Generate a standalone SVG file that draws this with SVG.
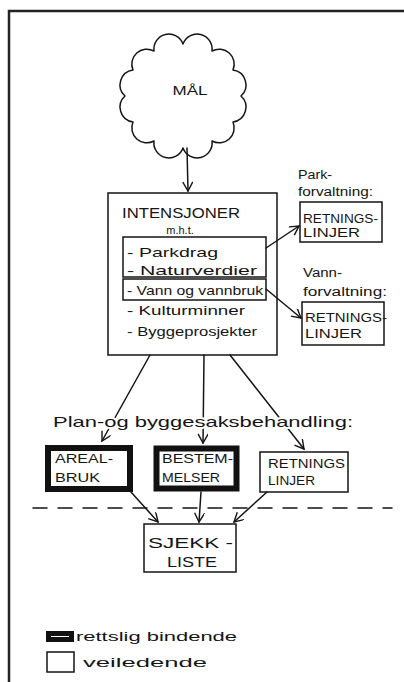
<svg xmlns="http://www.w3.org/2000/svg" width="404" height="682" viewBox="0 0 404 682">
<defs>
<style>
.ln{fill:none;stroke:#151515;stroke-width:1.5;stroke-linecap:round;stroke-linejoin:round}
.bx{fill:none;stroke:#151515;stroke-width:1.5}
.thick{fill:none;stroke:#111;stroke-width:6}
.t{font-family:"Liberation Sans","DejaVu Sans",sans-serif;fill:#151515}
.halo{paint-order:stroke;stroke:#fff;stroke-width:4;stroke-linejoin:round}
</style>
<marker id="ah" markerWidth="12" markerHeight="12" refX="10" refY="5" orient="auto" markerUnits="userSpaceOnUse">
<path d="M1,0 L10,5 L1,10" fill="none" stroke="#151515" stroke-width="1.4"/>
</marker>
</defs>
<rect width="404" height="682" fill="#fff"/>
<path d="M9,682 V11 H404" fill="none" stroke="#222" stroke-width="2.5"/>

<g id="connectors">
<path class="ln" d="M187,148 L188,191" marker-end="url(#ah)"/>
<path class="ln" d="M266,248 L299,226" marker-end="url(#ah)"/>
<path class="ln" d="M266,289 L301,318" marker-end="url(#ah)"/>
<path class="ln" d="M150,355 L102,441" marker-end="url(#ah)"/>
<path class="ln" d="M204,355 L203,443" marker-end="url(#ah)"/>
<path class="ln" d="M230,355 L304,449" marker-end="url(#ah)"/>
<path class="ln" d="M131,492 L158,522" marker-end="url(#ah)"/>
<path class="ln" d="M201,492 L199,522" marker-end="url(#ah)"/>
<path class="ln" d="M267,492 L234,522" marker-end="url(#ah)"/>
<path class="ln" d="M33,508 H392" stroke-dasharray="14 11"/>
</g>

<g id="mal">
<path class="ln" d="M241,96 A15,15 0 0 1 233,122 A15,15 0 0 1 212,141 A15,15 0 0 1 183,148 A15,15 0 0 1 154,141 A15,15 0 0 1 133,122 A15,15 0 0 1 125,96 A15,15 0 0 1 133,70 A15,15 0 0 1 154,51 A15,15 0 0 1 183,44 A15,15 0 0 1 212,51 A15,15 0 0 1 233,70 A15,15 0 0 1 241,96 Z"/>
<text class="t" x="190" y="95" font-size="13" text-anchor="middle" textLength="35" lengthAdjust="spacingAndGlyphs">MÅL</text>
</g>

<g id="intensjoner">
<rect class="bx" x="108" y="193" width="169" height="162"/>
<rect class="bx" x="123" y="237" width="143" height="40"/>
<rect class="bx" x="123" y="279" width="143" height="21"/>
<text class="t" x="122" y="218" font-size="15" textLength="118" lengthAdjust="spacingAndGlyphs">INTENSJONER</text>
<text class="t" x="180" y="234" font-size="11" text-anchor="middle">m.h.t.</text>
<text class="t" x="127" y="257" font-size="13" textLength="91" lengthAdjust="spacingAndGlyphs">- Parkdrag</text>
<text class="t" x="127" y="275" font-size="13" textLength="130" lengthAdjust="spacingAndGlyphs">- Naturverdier</text>
<text class="t" x="127" y="295" font-size="13" textLength="136" lengthAdjust="spacingAndGlyphs">- Vann og vannbruk</text>
<text class="t" x="127" y="315" font-size="13" textLength="118" lengthAdjust="spacingAndGlyphs">- Kulturminner</text>
<text class="t" x="127" y="336" font-size="13" textLength="130" lengthAdjust="spacingAndGlyphs">- Byggeprosjekter</text>
</g>

<g id="parkforvaltning">
<text class="t" x="298" y="179" font-size="12" textLength="34" lengthAdjust="spacingAndGlyphs">Park-</text>
<text class="t" x="298" y="196" font-size="12" textLength="75" lengthAdjust="spacingAndGlyphs">forvaltning:</text>
<rect class="bx" x="300" y="202" width="82" height="40"/>
<text class="t" x="303" y="223" font-size="13" textLength="75" lengthAdjust="spacingAndGlyphs">RETNINGS-</text>
<text class="t" x="303" y="237" font-size="13" textLength="57" lengthAdjust="spacingAndGlyphs">LINJER</text>
</g>

<g id="vannforvaltning">
<text class="t" x="303" y="277" font-size="12" textLength="39" lengthAdjust="spacingAndGlyphs">Vann-</text>
<text class="t" x="303" y="296" font-size="12" textLength="84" lengthAdjust="spacingAndGlyphs">forvaltning:</text>
<rect class="bx" x="302" y="302" width="82" height="43"/>
<text class="t" x="305" y="322" font-size="13" textLength="82" lengthAdjust="spacingAndGlyphs">RETNINGS-</text>
<text class="t" x="305" y="338" font-size="13" textLength="57" lengthAdjust="spacingAndGlyphs">LINJER</text>
</g>

<g id="plan-label">
<text class="t halo" x="53" y="427" font-size="15" textLength="300" lengthAdjust="spacingAndGlyphs">Plan-og byggesaksbehandling:</text>
</g>

<g id="arealbruk">
<rect class="thick" x="48" y="448" width="82" height="41"/>
<text class="t" x="55" y="463" font-size="13" textLength="58" lengthAdjust="spacingAndGlyphs">AREAL-</text>
<text class="t" x="55" y="482" font-size="13" textLength="45" lengthAdjust="spacingAndGlyphs">BRUK</text>
</g>

<g id="bestemmelser">
<rect class="thick" x="156.5" y="448.5" width="80" height="40" stroke-width="7"/>
<text class="t" x="162" y="463" font-size="13" textLength="71" lengthAdjust="spacingAndGlyphs">BESTEM-</text>
<text class="t" x="162" y="482" font-size="13" textLength="58" lengthAdjust="spacingAndGlyphs">MELSER</text>
</g>

<g id="retningslinjer">
<rect class="bx" x="260" y="452" width="88" height="40"/>
<text class="t" x="268" y="468" font-size="13" textLength="77" lengthAdjust="spacingAndGlyphs">RETNINGS</text>
<text class="t" x="268" y="485" font-size="13" textLength="47" lengthAdjust="spacingAndGlyphs">LINJER</text>
</g>

<g id="sjekkliste">
<rect class="bx" x="144" y="524" width="92" height="48"/>
<text class="t" x="148" y="548" font-size="14" textLength="85" lengthAdjust="spacingAndGlyphs">SJEKK -</text>
<text class="t" x="167" y="567" font-size="14" textLength="50" lengthAdjust="spacingAndGlyphs">LISTE</text>
</g>

<g id="legend">
<rect x="48.5" y="633.5" width="23" height="6" fill="none" stroke="#111" stroke-width="5"/>
<text class="t" x="76" y="641" font-size="12" textLength="161" lengthAdjust="spacingAndGlyphs">rettslig bindende</text>
<rect class="bx" x="47" y="652" width="27" height="20"/>
<text class="t" x="83" y="667" font-size="12" textLength="124" lengthAdjust="spacingAndGlyphs">veiledende</text>
</g>
</svg>
